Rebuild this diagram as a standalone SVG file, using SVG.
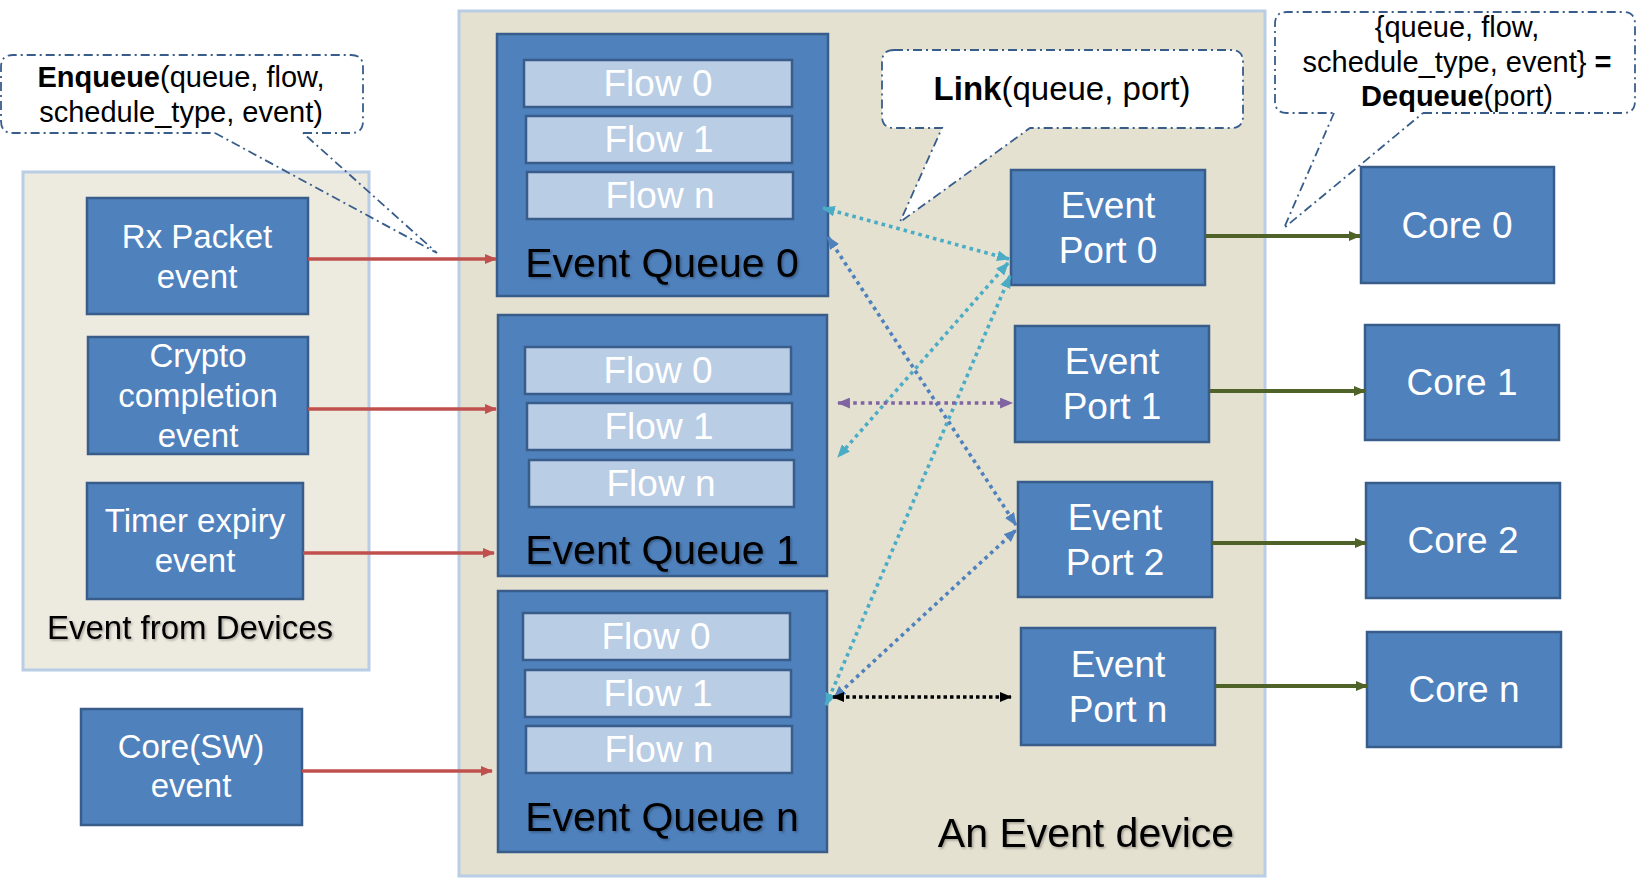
<svg xmlns="http://www.w3.org/2000/svg" width="1638" height="885" viewBox="0 0 1638 885">
<defs>
<style>
text{font-family:"Liberation Sans",Arial,sans-serif;text-anchor:middle}
.box{fill:#4f81bd;stroke:#385d8a;stroke-width:2.5}
.flow{fill:#b9cde5;stroke:#385d8a;stroke-width:2.5}
.ft{fill:#ffffff;font-size:37px}
.pt{fill:#ffffff;font-size:37px}
.st{fill:#ffffff;font-size:33px}
.qt{fill:#000000;font-size:41px;filter:url(#sh)}
.call{fill:#ffffff;stroke:#385d8a;stroke-width:1.8;stroke-dasharray:9 4 2 4}
.tail{fill:none;stroke:#385d8a;stroke-width:1.8;stroke-dasharray:9 4 2 4}
.red{stroke:#c0504d;stroke-width:3.5;fill:none;marker-end:url(#mr)}
.grn{stroke:#4f6228;stroke-width:4;fill:none;marker-end:url(#mg)}
.dot{fill:none;stroke-width:3.6;stroke-dasharray:3.6 4}
.cy{stroke:#4bacc6;marker-start:url(#mc);marker-end:url(#mc)}
.bl{stroke:#4f81bd;marker-start:url(#mb);marker-end:url(#mb)}
.pu{stroke:#8064a2;marker-start:url(#mp);marker-end:url(#mp)}
.bk{stroke:#000000;stroke-dasharray:3.5 3;marker-start:url(#mk);marker-end:url(#mk)}
</style>
<filter id="sh" x="-5%" y="-20%" width="110%" height="140%"><feDropShadow dx="1.5" dy="1.5" stdDeviation="1" flood-color="#000" flood-opacity="0.3"/></filter>
<marker id="mr" viewBox="0 0 12 10" refX="11" refY="5" markerWidth="12" markerHeight="10" markerUnits="userSpaceOnUse" orient="auto"><path d="M0,0 L12,5 L0,10 z" fill="#c0504d"/></marker>
<marker id="mg" viewBox="0 0 12 10" refX="11" refY="5" markerWidth="12" markerHeight="11" markerUnits="userSpaceOnUse" orient="auto"><path d="M0,0 L12,5 L0,10 z" fill="#4f6228"/></marker>
<marker id="mc" viewBox="0 0 12 10" refX="11" refY="5" markerWidth="13" markerHeight="11" markerUnits="userSpaceOnUse" orient="auto-start-reverse"><path d="M0,0 L12,5 L0,10 z" fill="#4bacc6"/></marker>
<marker id="mb" viewBox="0 0 12 10" refX="11" refY="5" markerWidth="13" markerHeight="11" markerUnits="userSpaceOnUse" orient="auto-start-reverse"><path d="M0,0 L12,5 L0,10 z" fill="#4f81bd"/></marker>
<marker id="mp" viewBox="0 0 12 10" refX="11" refY="5" markerWidth="13" markerHeight="11" markerUnits="userSpaceOnUse" orient="auto-start-reverse"><path d="M0,0 L12,5 L0,10 z" fill="#8064a2"/></marker>
<marker id="mk" viewBox="0 0 12 10" refX="11" refY="5" markerWidth="12" markerHeight="11" markerUnits="userSpaceOnUse" orient="auto-start-reverse"><path d="M0,0 L12,5 L0,10 z" fill="#000000"/></marker>
</defs>
<rect width="1638" height="885" fill="#ffffff"/>

<g id="event-device">
<rect x="459" y="11" width="806" height="865" fill="#e5e1d1" stroke="#b9cde5" stroke-width="3"/>
<text x="1086" y="847" font-size="41" fill="#000" filter="url(#sh)">An Event device</text>
</g>

<g id="devices-group">
<rect x="23" y="172" width="346" height="498" fill="#edeae0" stroke="#b9cde5" stroke-width="3"/>
<text x="190" y="639" font-size="33" fill="#000" filter="url(#sh)">Event from Devices</text>
</g>

<g id="enqueue-callout">
<path class="call" d="M303,133 H351 Q363,133 363,121 V67 Q363,55 351,55 H13 Q1,55 1,67 V121 Q1,133 13,133 H215"/>
<path class="tail" d="M215,133 L437,253 L303,133"/>
<text x="181" y="87" font-size="29" fill="#000"><tspan font-weight="bold">Enqueue</tspan>(queue, flow,</text>
<text x="181" y="122" font-size="29" fill="#000">schedule_type, event)</text>
</g>

<g id="rx-packet">
<rect class="box" x="87" y="198" width="221" height="116"/>
<text class="st" x="197" y="248">Rx Packet</text>
<text class="st" x="197" y="288">event</text>
</g>
<g id="crypto">
<rect class="box" x="88" y="337" width="220" height="117"/>
<text class="st" x="198" y="367">Crypto</text>
<text class="st" x="198" y="407">completion</text>
<text class="st" x="198" y="447">event</text>
</g>
<g id="timer">
<rect class="box" x="87" y="483" width="216" height="116"/>
<text class="st" x="195" y="532">Timer expiry</text>
<text class="st" x="195" y="572">event</text>
</g>
<g id="core-sw">
<rect class="box" x="81" y="709" width="221" height="116"/>
<text class="st" x="191" y="758">Core(SW)</text>
<text class="st" x="191" y="797">event</text>
</g>

<g id="event-queue-0">
<rect class="box" x="497" y="34" width="331" height="262"/>
<rect class="flow" x="524" y="60" width="268" height="47"/>
<text class="ft" x="658" y="96">Flow 0</text>
<rect class="flow" x="526" y="116" width="266" height="47"/>
<text class="ft" x="659" y="152">Flow 1</text>
<rect class="flow" x="527" y="172" width="266" height="47"/>
<text class="ft" x="660" y="208">Flow n</text>
<text class="qt" x="662" y="277">Event Queue 0</text>
</g>
<g id="event-queue-1">
<rect class="box" x="498" y="315" width="329" height="261"/>
<rect class="flow" x="525" y="347" width="266" height="47"/>
<text class="ft" x="658" y="383">Flow 0</text>
<rect class="flow" x="527" y="403" width="265" height="47"/>
<text class="ft" x="659" y="439">Flow 1</text>
<rect class="flow" x="529" y="460" width="265" height="47"/>
<text class="ft" x="661" y="496">Flow n</text>
<text class="qt" x="662" y="564">Event Queue 1</text>
</g>
<g id="event-queue-n">
<rect class="box" x="498" y="591" width="329" height="261"/>
<rect class="flow" x="523" y="613" width="267" height="47"/>
<text class="ft" x="656" y="649">Flow 0</text>
<rect class="flow" x="525" y="670" width="266" height="47"/>
<text class="ft" x="658" y="706">Flow 1</text>
<rect class="flow" x="526" y="726" width="266" height="47"/>
<text class="ft" x="659" y="762">Flow n</text>
<text class="qt" x="662" y="831">Event Queue n</text>
</g>

<g id="port-0">
<rect class="box" x="1011" y="170" width="194" height="115"/>
<text class="pt" x="1108" y="218">Event</text>
<text class="pt" x="1108" y="263">Port 0</text>
</g>
<g id="port-1">
<rect class="box" x="1015" y="326" width="194" height="116"/>
<text class="pt" x="1112" y="374">Event</text>
<text class="pt" x="1112" y="419">Port 1</text>
</g>
<g id="port-2">
<rect class="box" x="1018" y="482" width="194" height="115"/>
<text class="pt" x="1115" y="530">Event</text>
<text class="pt" x="1115" y="575">Port 2</text>
</g>
<g id="port-n">
<rect class="box" x="1021" y="628" width="194" height="117"/>
<text class="pt" x="1118" y="677">Event</text>
<text class="pt" x="1118" y="722">Port n</text>
</g>

<g id="core-0">
<rect class="box" x="1361" y="167" width="193" height="116"/>
<text class="pt" x="1457" y="238">Core 0</text>
</g>
<g id="core-1">
<rect class="box" x="1365" y="325" width="194" height="115"/>
<text class="pt" x="1462" y="395">Core 1</text>
</g>
<g id="core-2">
<rect class="box" x="1366" y="483" width="194" height="115"/>
<text class="pt" x="1463" y="553">Core 2</text>
</g>
<g id="core-n">
<rect class="box" x="1367" y="632" width="194" height="115"/>
<text class="pt" x="1464" y="702">Core n</text>
</g>

<g id="link-callout">
<path class="call" d="M894,50 H1231 Q1243,50 1243,62 V116 Q1243,128 1231,128 H1030 L900,222 L942,128 H894 Q882,128 882,116 V62 Q882,50 894,50 Z"/>
<text x="1062" y="100" font-size="33" fill="#000"><tspan font-weight="bold">Link</tspan>(queue, port)</text>
</g>

<g id="dequeue-callout">
<path class="call" d="M1423,113 H1623 Q1635,113 1635,101 V24 Q1635,12 1623,12 H1287 Q1275,12 1275,24 V101 Q1275,113 1287,113 H1334"/>
<path class="tail" d="M1334,113 L1284,228 L1423,113"/>
<text x="1457" y="37" font-size="29" fill="#000">{queue, flow,</text>
<text x="1457" y="72" font-size="29" fill="#000">schedule_type, event} <tspan font-weight="bold">=</tspan></text>
<text x="1457" y="106" font-size="29" fill="#000"><tspan font-weight="bold">Dequeue</tspan>(port)</text>
</g>

<g id="connectors">
<path class="red" d="M308,259 H496"/>
<path class="red" d="M308,409 H496"/>
<path class="red" d="M303,553 H494"/>
<path class="red" d="M302,771 H492"/>
<path class="grn" d="M1206,236 H1360"/>
<path class="grn" d="M1209,391 H1365"/>
<path class="grn" d="M1212,543 H1366"/>
<path class="grn" d="M1215,686 H1367"/>
<path class="dot cy" d="M823,208 L1009,259"/>
<path class="dot bl" d="M828,237 L1016,525"/>
<path class="dot cy" d="M1008,263 L838,457"/>
<path class="dot cy" d="M1010,276 L826,705"/>
<path class="dot pu" d="M838,403 L1012,403"/>
<path class="dot bl" d="M834,698 L1016,530"/>
<path class="dot bk" d="M833,697 L1011,697"/>
</g>
</svg>
